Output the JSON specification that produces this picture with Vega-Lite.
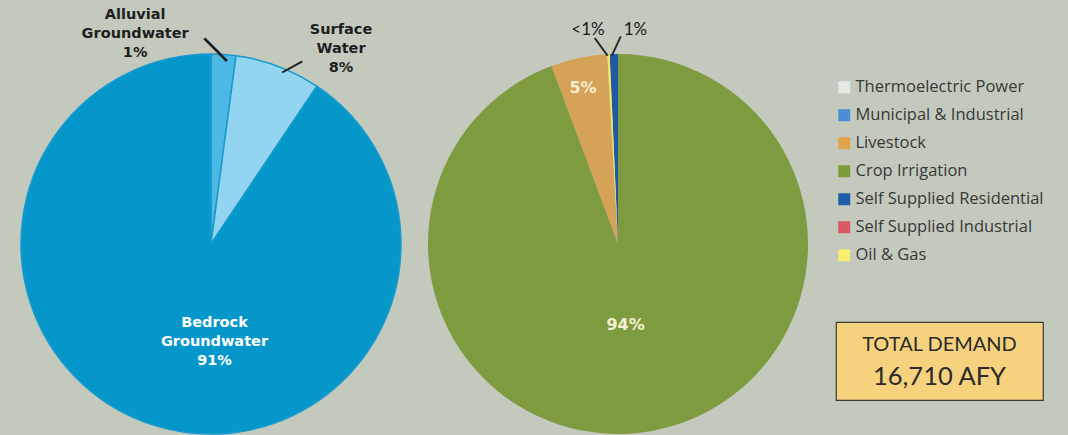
{
  "$schema": "https://vega.github.io/schema/vega-lite/v6.json",
  "background": "#c3cabd",
  "padding": {"left": 18, "top": 0, "right": 40, "bottom": 0},
  "spacing": 0,
  "bounds": "flush",
  "config": {"view": {"stroke": null}, "concat": {"spacing": 0}},
  "datasets": {
    "source": [
      {"source": "Alluvial Groundwater", "share": 2.1, "i": 1, "label": "Alluvial\nGroundwater\n1%"},
      {"source": "Surface Water", "share": 7.3, "i": 2, "label": "Surface\nWater\n8%"},
      {"source": "Bedrock Groundwater", "share": 90.6, "i": 3, "label": "Bedrock\nGroundwater\n91%"}
    ],
    "use": [
      {"use": "Thermoelectric Power", "share": 0, "i": 5, "label": ""},
      {"use": "Municipal & Industrial", "share": 0, "i": 6, "label": ""},
      {"use": "Livestock", "share": 4.8, "i": 2, "label": "5%"},
      {"use": "Crop Irrigation", "share": 94.3, "i": 1, "label": "94%"},
      {"use": "Self Supplied Residential", "share": 0.7, "i": 4, "label": "1%"},
      {"use": "Self Supplied Industrial", "share": 0, "i": 7, "label": ""},
      {"use": "Oil & Gas", "share": 0.2, "i": 3, "label": "<1%"}
    ],
    "total": [
      {"part": "title", "text": "TOTAL DEMAND"},
      {"part": "value", "text": "16,710 AFY"}
    ]
  },
  "resolve": {"scale": {"color": "independent", "theta": "independent"}},
  "hconcat": [
    {
      "width": 378,
      "height": 488,
      "data": {"name": "source"},
      "encoding": {
        "theta": {"field": "share", "type": "quantitative", "stack": true},
        "order": {"field": "i", "type": "quantitative"},
        "detail": {"field": "source", "type": "nominal"}
      },
      "layer": [
        {
          "mark": {"type": "arc", "radius": 190, "stroke": "#1a9acd", "strokeWidth": 1.5},
          "encoding": {
            "color": {
              "field": "source", "type": "nominal", "legend": null,
              "scale": {"domain": ["Alluvial Groundwater", "Surface Water", "Bedrock Groundwater"], "range": ["#4cb9e4", "#93d4f0", "#0597ca"]}
            }
          }
        },
        {
          "mark": {"type": "text", "radius": 215, "dx": -90, "dy": -14.5, "font": "DejaVu Sans", "fontWeight": "bold", "fontSize": 14.5, "lineBreak": "\n", "lineHeight": 19, "color": "#1e1e1e", "align": "center", "baseline": "middle"},
          "encoding": {"text": {"condition": {"test": "datum.source === 'Alluvial Groundwater'", "field": "label", "type": "nominal"}, "value": ""}}
        },
        {
          "mark": {"type": "text", "radius": 215, "dx": 54, "dy": -13, "font": "DejaVu Sans", "fontWeight": "bold", "fontSize": 14.5, "lineBreak": "\n", "lineHeight": 19, "color": "#1e1e1e", "align": "center", "baseline": "middle"},
          "encoding": {"text": {"condition": {"test": "datum.source === 'Surface Water'", "field": "label", "type": "nominal"}, "value": ""}}
        },
        {
          "mark": {"type": "text", "radius": 100, "dx": 32.6, "dy": -16.7, "font": "DejaVu Sans", "fontWeight": "bold", "fontSize": 14.5, "lineBreak": "\n", "lineHeight": 19, "color": "#ffffff", "align": "center", "baseline": "middle"},
          "encoding": {"text": {"condition": {"test": "datum.source === 'Bedrock Groundwater'", "field": "label", "type": "nominal"}, "value": ""}}
        },
        {
          "mark": {"type": "text", "radius": 196, "angle": -45, "dx": -6.7, "dy": -6.6, "font": "DejaVu Sans", "fontSize": 32, "color": "#1e1e1e", "align": "center", "baseline": "middle"},
          "encoding": {"text": {"condition": {"test": "datum.source === 'Alluvial Groundwater'", "value": "|"}, "value": ""}}
        },
        {
          "mark": {"type": "text", "radius": 190, "angle": 61, "dx": 7.4, "dy": -12.8, "font": "DejaVu Sans", "fontSize": 23, "color": "#1e1e1e", "align": "center", "baseline": "middle"},
          "encoding": {"text": {"condition": {"test": "datum.source === 'Surface Water'", "value": "|"}, "value": ""}}
        }
      ]
    },
    {
      "width": 436,
      "height": 488,
      "data": {"name": "use"},
      "encoding": {
        "theta": {"field": "share", "type": "quantitative", "stack": true},
        "order": {"field": "i", "type": "quantitative"},
        "detail": {"field": "use", "type": "nominal"}
      },
      "layer": [
        {
          "mark": {"type": "arc", "radius": 190},
          "encoding": {
            "color": {
              "field": "use", "type": "nominal", "legend": null,
              "scale": {
                "domain": ["Thermoelectric Power", "Municipal & Industrial", "Livestock", "Crop Irrigation", "Self Supplied Residential", "Self Supplied Industrial", "Oil & Gas"],
                "range": ["#e6e8e4", "#4d8fd6", "#d6a257", "#7e9b3f", "#1f5aa6", "#d85a66", "#f3e85e"]
              }
            }
          }
        },
        {
          "mark": {"type": "text", "radius": 82, "dx": -7, "dy": 0.3, "font": "DejaVu Sans", "fontWeight": "bold", "fontSize": 16, "color": "#f4f0d4", "align": "center", "baseline": "middle"},
          "encoding": {"text": {"condition": {"test": "datum.use === 'Crop Irrigation'", "field": "label", "type": "nominal"}, "value": ""}}
        },
        {
          "mark": {"type": "text", "radius": 160, "dx": -2, "dy": 0.6, "font": "DejaVu Sans", "fontWeight": "bold", "fontSize": 16, "color": "#f6efd6", "align": "center", "baseline": "middle"},
          "encoding": {"text": {"condition": {"test": "datum.use === 'Livestock'", "field": "label", "type": "nominal"}, "value": ""}}
        },
        {
          "mark": {"type": "text", "radius": 214, "dx": -19.3, "dy": 0, "font": "Lato", "fontSize": 17, "color": "#1a1a1a", "align": "center", "baseline": "middle"},
          "encoding": {"text": {"condition": {"test": "datum.use === 'Oil & Gas'", "field": "label", "type": "nominal"}, "value": ""}}
        },
        {
          "mark": {"type": "text", "radius": 214, "dx": 22.2, "dy": 0, "font": "Lato", "fontSize": 17, "color": "#1a1a1a", "align": "center", "baseline": "middle"},
          "encoding": {"text": {"condition": {"test": "datum.use === 'Self Supplied Residential'", "field": "label", "type": "nominal"}, "value": ""}}
        },
        {
          "mark": {"type": "text", "radius": 198, "angle": -35.8, "dx": -6, "dy": -4.7, "font": "DejaVu Sans", "fontSize": 22, "color": "#1e1e1e", "align": "center", "baseline": "middle"},
          "encoding": {"text": {"condition": {"test": "datum.use === 'Oil & Gas'", "value": "|"}, "value": ""}}
        },
        {
          "mark": {"type": "text", "radius": 198.5, "angle": 25, "dx": 2.6, "dy": -1.2, "font": "DejaVu Sans", "fontSize": 21, "color": "#1e1e1e", "align": "center", "baseline": "middle"},
          "encoding": {"text": {"condition": {"test": "datum.use === 'Self Supplied Residential'", "value": "|"}, "value": ""}}
        }
      ]
    },
    {
      "spacing": 0,
      "vconcat": [
        {
          "width": 207,
          "height": 321,
          "data": {"name": "use"},
          "mark": {"type": "square", "opacity": 0},
          "encoding": {
            "color": {
              "field": "use", "type": "nominal",
              "scale": {
                "domain": ["Thermoelectric Power", "Municipal & Industrial", "Livestock", "Crop Irrigation", "Self Supplied Residential", "Self Supplied Industrial", "Oil & Gas"],
                "range": ["#e6e8e4", "#4d8fd6", "#e0a44c", "#7c9c3a", "#1f5ea8", "#d85a66", "#f7ee6e"]
              },
              "legend": {
                "title": null,
                "orient": "none",
                "legendX": 0,
                "legendY": 79,
                "padding": 0,
                "symbolType": "square",
                "symbolSize": 144,
                "symbolOpacity": 1,
                "symbolStrokeWidth": 0,
                "labelFont": "Open Sans",
                "labelFontSize": 16.5,
                "labelColor": "#383838",
                "labelOffset": 3,
                "labelLimit": 300,
                "rowPadding": 11
              }
            }
          }
        },
        {
          "width": 207,
          "height": 78,
          "view": {"fill": "#f6d27e", "stroke": "#3a3a3a", "strokeWidth": 1.2},
          "data": {"name": "total"},
          "encoding": {
            "y": {"field": "part", "type": "nominal", "axis": null, "scale": {"type": "point", "domain": ["title", "value"], "padding": 0.7}},
            "text": {"field": "text", "type": "nominal"}
          },
          "layer": [
            {
              "transform": [{"filter": "datum.part === 'title'"}],
              "mark": {"type": "text", "font": "Lato", "fontSize": 20, "color": "#2a2a2a", "align": "center", "baseline": "middle"}
            },
            {
              "transform": [{"filter": "datum.part === 'value'"}],
              "mark": {"type": "text", "font": "Lato", "fontSize": 25.5, "color": "#2a2a2a", "align": "center", "baseline": "middle"}
            }
          ]
        }
      ]
    }
  ]
}
